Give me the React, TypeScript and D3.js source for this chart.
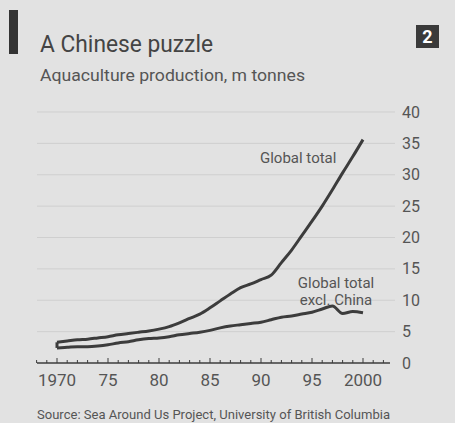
import React from "react";
import * as d3 from "d3";

// aquaculture production, m tonnes
const years = [
  1970, 1971, 1972, 1973, 1974, 1975, 1976, 1977, 1978, 1979,
  1980, 1981, 1982, 1983, 1984, 1985, 1986, 1987, 1988, 1989,
  1990, 1991, 1992, 1993, 1994, 1995, 1996, 1997, 1998, 1999, 2000,
];
const globalTotal = [
  3.3, 3.5, 3.7, 3.8, 4.0, 4.2, 4.5, 4.7, 4.9, 5.1,
  5.4, 5.8, 6.4, 7.1, 7.8, 8.8, 9.9, 11.0, 12.0, 12.6,
  13.3, 14.0, 16.0, 18.0, 20.3, 22.6, 25.0, 27.6, 30.3, 32.9, 35.6,
];
const exclChina = [
  2.4, 2.5, 2.6, 2.6, 2.7, 2.9, 3.2, 3.4, 3.7, 3.9,
  4.0, 4.2, 4.5, 4.7, 4.9, 5.2, 5.6, 5.9, 6.1, 6.3,
  6.5, 6.9, 7.3, 7.5, 7.8, 8.1, 8.6, 9.1, 7.9, 8.2, 8.0,
];
const yTicks = [0, 5, 10, 15, 20, 25, 30, 35, 40];
const xLabels = [
  { year: 1970, text: "1970" },
  { year: 1975, text: "75" },
  { year: 1980, text: "80" },
  { year: 1985, text: "85" },
  { year: 1990, text: "90" },
  { year: 1995, text: "95" },
  { year: 2000, text: "2000" },
];

const W = 455;
const H = 423;
const ink = "#3c3c3c";
const textCol = "#555";
const font = "Roboto, 'Open Sans', sans-serif";

export default function App() {
  const x = d3.scaleLinear().domain([1970, 2000]).range([57, 363]);
  const y = d3.scaleLinear().domain([0, 40]).range([363, 112]);

  const line = d3
    .line<number>()
    .x((_, i) => x(years[i]))
    .y((d) => y(d))
    .curve(d3.curveMonotoneX);

  const tickYears = d3.range(1968, 2003);

  return (
    <svg
      width={W}
      height={H}
      style={{ position: "absolute", left: 0, top: 0, display: "block" }}
    >
      <rect x={0} y={0} width={W} height={H} fill="#e2e2e2" />

      {/* header */}
      <rect x={9} y={10} width={9} height={44} fill="#333" />
      <text
        x={40}
        y={52}
        fontFamily={font}
        fontSize={24}
        fill="#444"
        textLength={173}
        lengthAdjust="spacingAndGlyphs"
      >
        A Chinese puzzle
      </text>
      <text
        x={40}
        y={81}
        fontFamily={font}
        fontSize={17}
        fill={textCol}
        textLength={265}
        lengthAdjust="spacingAndGlyphs"
      >
        Aquaculture production, m tonnes
      </text>
      <rect x={416} y={25} width={23} height={23} fill="#3a3a3a" />
      <text
        x={427.5}
        y={42.5}
        textAnchor="middle"
        fontFamily={font}
        fontWeight={700}
        fontSize={18}
        fill="#fff"
      >
        2
      </text>

      {/* gridlines */}
      {yTicks.slice(1).map((t) => (
        <line
          key={"g" + t}
          x1={37}
          x2={395}
          y1={y(t)}
          y2={y(t)}
          stroke="#cfcfcf"
          strokeWidth={1}
        />
      ))}

      {/* y labels */}
      {yTicks.map((t) => (
        <text
          key={"y" + t}
          x={402}
          y={y(t)}
          dy="0.35em"
          fontFamily={font}
          fontSize={16}
          fill={textCol}
        >
          {t}
        </text>
      ))}

      {/* baseline */}
      <line x1={37} x2={390} y1={y(0)} y2={y(0)} stroke={ink} strokeWidth={1.5} />
      {tickYears.map((yr) => (
        <line
          key={"t" + yr}
          x1={x(yr)}
          x2={x(yr)}
          y1={y(0)}
          y2={y(0) - (yr % 5 === 0 ? 5 : 3)}
          stroke={ink}
          strokeWidth={1}
        />
      ))}
      {xLabels.map((l) => (
        <text
          key={"x" + l.year}
          x={x(l.year)}
          y={386}
          textAnchor="middle"
          fontFamily={font}
          fontSize={17}
          fill={textCol}
        >
          {l.text}
        </text>
      ))}

      {/* series */}
      <line
        x1={x(years[0])}
        x2={x(years[0])}
        y1={y(globalTotal[0])}
        y2={y(exclChina[0])}
        stroke={ink}
        strokeWidth={3}
      />
      <path d={line(globalTotal) ?? ""} fill="none" stroke={ink} strokeWidth={3} strokeLinejoin="round" />
      <path d={line(exclChina) ?? ""} fill="none" stroke={ink} strokeWidth={3} strokeLinejoin="round" />

      {/* annotations */}
      <text x={260} y={163} fontFamily={font} fontSize={15} fill={textCol}>
        Global total
      </text>
      <text x={336} y={288} textAnchor="middle" fontFamily={font} fontSize={15} fill={textCol}>
        Global total
      </text>
      <text x={336} y={305} textAnchor="middle" fontFamily={font} fontSize={15} fill={textCol}>
        excl. China
      </text>

      {/* source */}
      <text
        x={37}
        y={419}
        fontFamily={font}
        fontSize={13}
        fill={textCol}
        textLength={353}
        lengthAdjust="spacingAndGlyphs"
      >
        Source: Sea Around Us Project, University of British Columbia
      </text>
    </svg>
  );
}
